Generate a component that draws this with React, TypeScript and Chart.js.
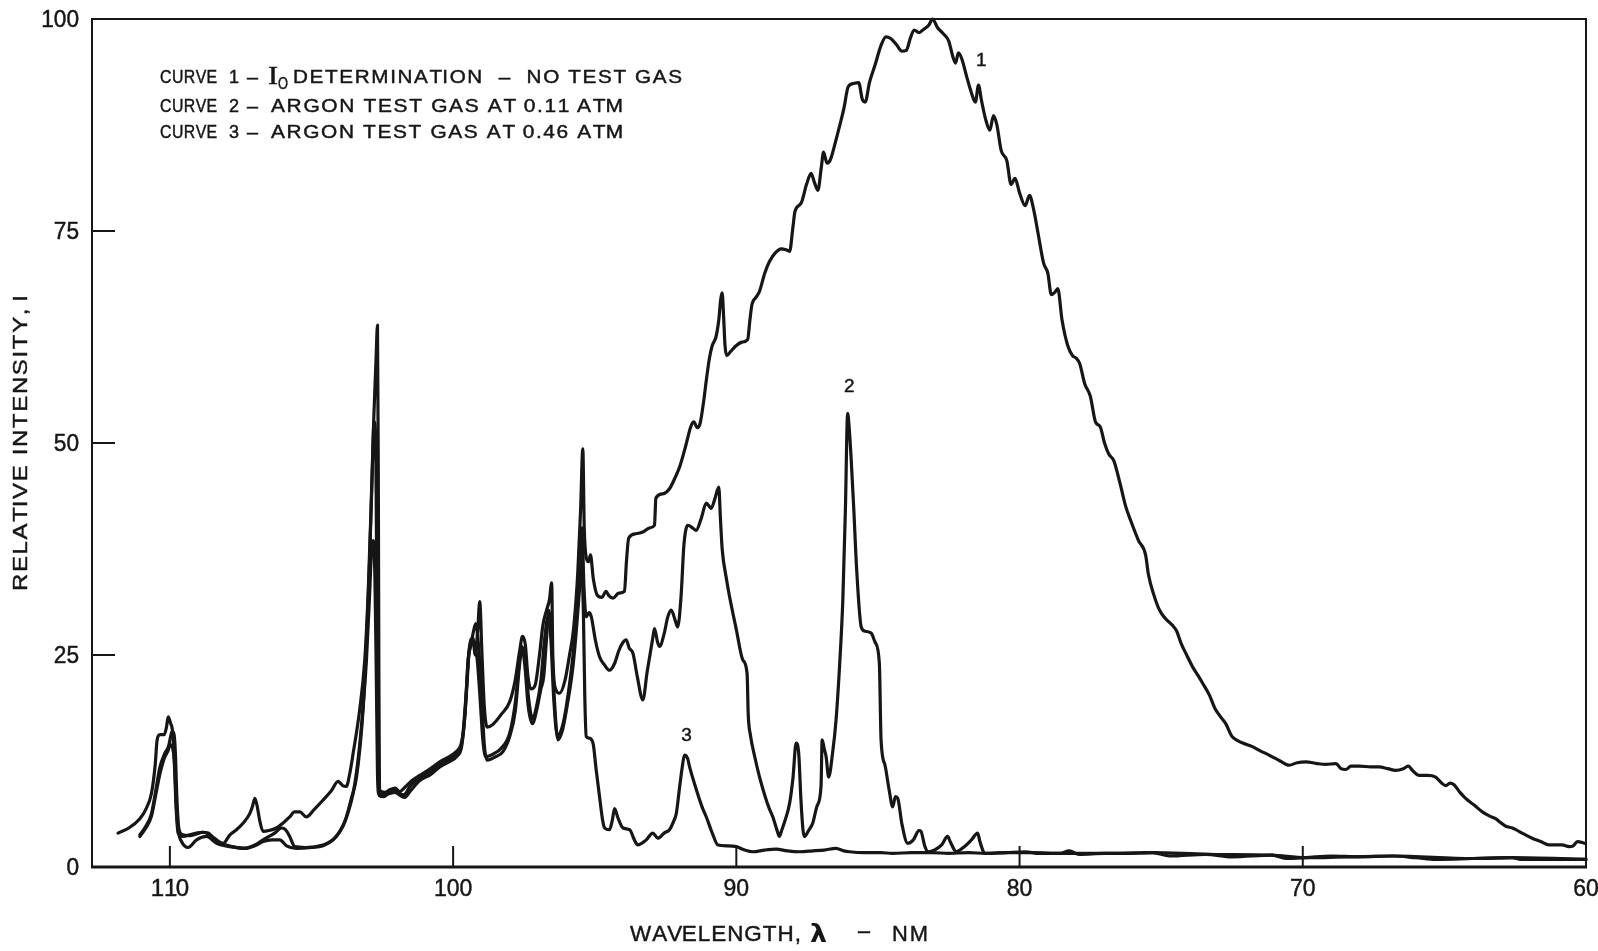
import React, { useEffect, useRef } from "react";
import { Chart, registerables } from "chart.js";

Chart.register(...registerables);

// ---------- data (wavelength nm, relative intensity) ----------
const curve1NoGas: [number, number][] = [
  [111.83, 4.0], [111.45, 4.6], [111.06, 5.7], [110.85, 6.8], [110.65, 8.7], [110.52, 12.0], [110.45, 15.0],
  [110.35, 15.6], [110.2, 15.6], [110.12, 16.5], [110.06, 17.7], [109.98, 17.0], [109.9, 15.8], [109.84, 12.0],
  [109.78, 7.0], [109.71, 4.0], [109.53, 3.6], [109.3, 3.8], [109.06, 4.0], [108.85, 4.1], [108.65, 4.0],
  [108.35, 3.0], [108.12, 2.8], [107.88, 3.8], [107.65, 4.4], [107.41, 5.2], [107.18, 6.3], [107.08, 7.2],
  [107.0, 8.1], [106.92, 7.2], [106.83, 5.5], [106.71, 4.2], [106.5, 4.3], [106.24, 4.6], [106.0, 5.2],
  [105.77, 5.9], [105.6, 6.5], [105.41, 6.5], [105.18, 5.9], [104.9, 6.8], [104.59, 7.9], [104.3, 9.0],
  [104.06, 10.1], [103.9, 9.6], [103.77, 9.5], [103.65, 11.0], [103.53, 13.4], [103.3, 18.5], [103.12, 24.4],
  [103.0, 32.3], [102.9, 42.0], [102.8, 53.0], [102.72, 60.0], [102.67, 63.9], [102.64, 45.0], [102.62, 22.0],
  [102.58, 9.0], [102.4, 8.8], [102.24, 9.1], [102.05, 9.3], [101.89, 8.9], [101.7, 9.4], [101.45, 10.2],
  [101.18, 10.8], [100.8, 11.6], [100.47, 12.4], [100.15, 13.0], [99.89, 13.6], [99.72, 14.5], [99.62, 16.5],
  [99.52, 21.0], [99.42, 26.0], [99.3, 27.0], [99.22, 25.0], [99.13, 28.0], [99.06, 31.3], [98.98, 25.0],
  [98.9, 19.0], [98.8, 16.5], [98.6, 16.8], [98.3, 18.0], [98.0, 19.5], [97.81, 22.0], [97.65, 25.5],
  [97.55, 27.2], [97.45, 26.2], [97.36, 22.5], [97.25, 21.0], [97.1, 21.5], [96.95, 25.0], [96.83, 28.5],
  [96.7, 30.3], [96.6, 31.5], [96.52, 33.5], [96.48, 25.0], [96.38, 21.0], [96.24, 20.5], [96.05, 22.0],
  [95.89, 25.0], [95.75, 28.0], [95.6, 34.6], [95.5, 42.0], [95.42, 49.3], [95.37, 40.0], [95.3, 36.5],
  [95.22, 36.0], [95.15, 36.8], [95.05, 34.0], [94.9, 32.0], [94.75, 31.8], [94.6, 32.5], [94.5, 32.0],
  [94.36, 31.7], [94.15, 32.3], [93.95, 32.5], [93.88, 36.0], [93.8, 38.8], [93.55, 39.3], [93.3, 39.5],
  [93.05, 40.0], [92.89, 40.3], [92.84, 43.5], [92.6, 44.0], [92.36, 44.6], [92.15, 46.0], [92.0, 47.2],
  [91.8, 49.5], [91.6, 52.0], [91.5, 52.5], [91.38, 51.8], [91.28, 52.3], [91.15, 55.0], [91.06, 57.4],
  [90.95, 60.0], [90.85, 61.5], [90.72, 62.5], [90.62, 64.5], [90.55, 67.0], [90.5, 67.7], [90.45, 65.0],
  [90.4, 61.5], [90.34, 60.3], [90.2, 60.8], [90.0, 61.5], [89.8, 61.9], [89.6, 62.2], [89.52, 64.5],
  [89.45, 66.3], [89.3, 67.2], [89.18, 67.9], [89.0, 70.0], [88.83, 71.4], [88.6, 72.5], [88.42, 72.9],
  [88.25, 72.8], [88.12, 72.6], [88.0, 75.5], [87.93, 77.3], [87.71, 78.3], [87.52, 80.5], [87.36, 81.8],
  [87.25, 80.8], [87.12, 79.8], [87.0, 82.5], [86.92, 84.3], [86.8, 83.0], [86.68, 83.4], [86.5, 85.5],
  [86.36, 87.3], [86.2, 89.5], [86.05, 92.0], [85.85, 92.4], [85.68, 92.5], [85.55, 90.5], [85.45, 90.2],
  [85.3, 92.5], [85.1, 94.6], [84.9, 96.8], [84.72, 97.9], [84.55, 97.7], [84.35, 97.0], [84.15, 96.2],
  [84.0, 96.3], [83.85, 97.8], [83.72, 98.7], [83.55, 98.4], [83.38, 98.8], [83.2, 99.3], [83.07, 100.0],
  [82.9, 99.0], [82.7, 98.3], [82.5, 97.4], [82.35, 95.5], [82.26, 94.8], [82.16, 96.0], [82.05, 95.4],
  [81.85, 93.0], [81.7, 91.3], [81.56, 90.2], [81.45, 92.2], [81.35, 90.5], [81.2, 88.2], [81.05, 86.9],
  [80.92, 88.6], [80.8, 87.5], [80.65, 84.5], [80.45, 83.3], [80.3, 80.5], [80.16, 81.2], [80.0, 79.5],
  [79.8, 78.0], [79.65, 79.2], [79.5, 77.5], [79.35, 74.8], [79.15, 71.2], [79.0, 70.0], [78.88, 67.5],
  [78.75, 67.8], [78.65, 68.2], [78.5, 64.5], [78.3, 61.5], [78.13, 60.3], [78.0, 60.0], [77.88, 59.4],
  [77.7, 57.0], [77.5, 55.5], [77.32, 52.5], [77.15, 51.9], [77.0, 50.0], [76.85, 48.7], [76.67, 47.9],
  [76.45, 45.2], [76.25, 42.5], [76.07, 40.8], [75.8, 38.5], [75.55, 36.8], [75.45, 34.5], [75.25, 32.0],
  [75.06, 30.3], [74.85, 29.3], [74.6, 28.5], [74.45, 27.8], [74.3, 26.4], [74.1, 25.0], [73.89, 23.6],
  [73.7, 22.6], [73.54, 21.7], [73.3, 20.3], [73.1, 18.7], [72.9, 17.7], [72.72, 16.9], [72.5, 15.4],
  [72.3, 14.9], [72.1, 14.6], [71.78, 14.2], [71.5, 13.7], [71.19, 13.2], [70.8, 12.5], [70.48, 12.0],
  [70.2, 12.3], [69.89, 12.4], [69.5, 12.2], [69.19, 12.1], [68.83, 12.2], [68.65, 11.6], [68.48, 11.5],
  [68.3, 11.9], [68.0, 11.9], [67.6, 11.8], [67.31, 11.8], [67.0, 11.6], [66.72, 11.4], [66.45, 11.6],
  [66.28, 11.9], [66.1, 11.3], [65.89, 10.8], [65.6, 10.8], [65.31, 10.6], [65.1, 9.9], [64.95, 9.6],
  [64.8, 9.9], [64.66, 9.7], [64.45, 8.8], [64.25, 8.1], [63.95, 7.3], [63.66, 6.5], [63.4, 6.0],
  [63.19, 5.7], [63.0, 5.2], [62.83, 4.8], [62.6, 4.6], [62.48, 4.4], [62.2, 3.9], [61.9, 3.4],
  [61.6, 3.0], [61.31, 2.6], [61.0, 2.6], [60.84, 2.6], [60.6, 2.4], [60.45, 2.5], [60.3, 3.0], [60.05, 2.8],
];

const curve2Argon011: [number, number][] = [
  [111.06, 3.8], [110.85, 4.8], [110.65, 6.3], [110.5, 9.0], [110.35, 11.8], [110.18, 13.4], [110.05, 14.2],
  [109.96, 15.6], [109.92, 16.0], [109.85, 15.6], [109.8, 13.0], [109.76, 8.7], [109.68, 4.5], [109.55, 3.8],
  [109.3, 3.7], [109.06, 3.9], [108.83, 4.1], [108.59, 3.8], [108.18, 2.8], [107.8, 2.4], [107.41, 2.2],
  [107.0, 2.6], [106.71, 3.2], [106.3, 4.0], [106.05, 4.6], [105.92, 4.4], [105.77, 3.6], [105.59, 2.4],
  [105.2, 2.3], [104.59, 2.6], [104.3, 3.1], [104.12, 3.6], [103.9, 4.8], [103.77, 5.9], [103.6, 8.0],
  [103.41, 10.6], [103.18, 18.5], [103.06, 26.4], [102.96, 35.0], [102.86, 46.0], [102.79, 52.5],
  [102.73, 50.0], [102.69, 30.0], [102.65, 12.0], [102.6, 8.4], [102.45, 8.3], [102.3, 8.6], [102.05, 8.8],
  [101.85, 8.4], [101.71, 8.2], [101.5, 9.0], [101.18, 10.2], [100.8, 10.9], [100.47, 11.8], [100.15, 12.4],
  [99.85, 13.1], [99.7, 14.2], [99.57, 18.5], [99.47, 24.5], [99.38, 26.0], [99.28, 27.8], [99.2, 28.7],
  [99.1, 26.0], [99.0, 20.5], [98.9, 14.5], [98.8, 12.6], [98.5, 13.0], [98.24, 13.6], [98.0, 15.4],
  [97.8, 18.5], [97.65, 24.0], [97.56, 25.8], [97.46, 23.5], [97.35, 19.0], [97.2, 16.9], [97.05, 18.5],
  [96.9, 21.0], [96.8, 22.5], [96.7, 27.0], [96.62, 30.3], [96.52, 26.5], [96.42, 19.5], [96.3, 15.0],
  [96.15, 16.0], [96.0, 18.5], [95.77, 23.6], [95.6, 30.0], [95.5, 35.0], [95.45, 40.0], [95.38, 33.0],
  [95.3, 29.5], [95.2, 30.0], [95.12, 29.5], [94.98, 26.8], [94.83, 24.8], [94.65, 23.8], [94.48, 23.2],
  [94.3, 24.0], [94.15, 25.5], [94.0, 26.5], [93.89, 26.8], [93.78, 25.8], [93.65, 25.2], [93.5, 22.5],
  [93.3, 19.7], [93.15, 23.0], [92.95, 27.0], [92.89, 28.1], [92.78, 26.5], [92.71, 26.0], [92.55, 27.5],
  [92.42, 29.5], [92.3, 30.3], [92.15, 29.0], [92.07, 28.3], [91.95, 32.0], [91.85, 38.0], [91.71, 40.3],
  [91.55, 40.0], [91.42, 39.7], [91.25, 41.0], [91.06, 42.9], [90.95, 42.5], [90.89, 42.3], [90.75, 43.5],
  [90.62, 44.8], [90.56, 41.0], [90.5, 37.5], [90.35, 34.0], [90.24, 31.9], [90.0, 28.0], [89.77, 24.4],
  [89.62, 22.8], [89.58, 18.0], [89.5, 15.5], [89.35, 13.0], [89.18, 10.6], [89.0, 8.5], [88.85, 7.0],
  [88.71, 5.9], [88.55, 4.2], [88.48, 3.6], [88.4, 4.3], [88.25, 5.8], [88.12, 7.5], [88.0, 10.5],
  [87.89, 14.6], [87.8, 13.5], [87.72, 8.0], [87.65, 4.5], [87.6, 3.6], [87.45, 4.3], [87.3, 5.2],
  [87.15, 7.2], [87.01, 9.5], [86.97, 15.0], [86.9, 14.0], [86.83, 13.0], [86.74, 10.6], [86.6, 13.5],
  [86.48, 17.3], [86.35, 24.0], [86.24, 31.5], [86.15, 42.0], [86.07, 53.5], [86.02, 52.0], [85.95, 48.4],
  [85.85, 42.0], [85.75, 35.0], [85.59, 28.3], [85.45, 27.8], [85.24, 27.6], [85.1, 26.5], [84.95, 24.0],
  [84.89, 15.0], [84.75, 12.0], [84.6, 9.0], [84.48, 7.1], [84.38, 8.3], [84.3, 8.1], [84.15, 5.0],
  [83.95, 2.8], [83.75, 3.2], [83.55, 4.3], [83.48, 4.2], [83.35, 2.5], [83.24, 1.8], [83.0, 2.0],
  [82.75, 2.6], [82.54, 3.6], [82.45, 3.0], [82.3, 2.0], [82.24, 1.8], [81.95, 2.4], [81.7, 3.2],
  [81.48, 4.0], [81.4, 3.0], [81.3, 2.0], [81.24, 1.6], [80.5, 1.7], [79.5, 1.7], [78.6, 1.6],
  [77.0, 1.6], [75.3, 1.7], [73.4, 1.5], [71.1, 1.4], [69.9, 1.1], [66.8, 1.3], [64.0, 1.0], [62.6, 1.1],
  [60.0, 0.9],
];

const curve3Argon046: [number, number][] = [
  [111.06, 3.6], [110.85, 4.6], [110.65, 6.0], [110.5, 8.5], [110.35, 11.0], [110.2, 12.8], [110.08, 13.6],
  [109.98, 14.4], [109.9, 14.0], [109.83, 12.0], [109.77, 7.0], [109.7, 4.2], [109.59, 3.0], [109.36, 2.3],
  [109.06, 3.2], [108.71, 3.6], [108.35, 2.8], [107.88, 2.4], [107.29, 2.2], [107.0, 2.5], [106.71, 3.0],
  [106.4, 3.2], [106.12, 3.2], [105.88, 2.5], [105.53, 2.2], [105.0, 2.3], [104.59, 2.5], [104.24, 3.2],
  [103.89, 4.8], [103.7, 6.5], [103.53, 8.7], [103.38, 12.0], [103.24, 16.5], [103.06, 24.4], [102.95, 32.0],
  [102.88, 37.4], [102.82, 38.5], [102.76, 34.0], [102.71, 22.0], [102.67, 11.0], [102.62, 8.6],
  [102.45, 8.6], [102.3, 8.9], [102.1, 9.1], [101.9, 8.7], [101.75, 8.5], [101.5, 9.6], [101.2, 10.5],
  [100.8, 11.3], [100.47, 12.0], [100.15, 12.7], [99.85, 13.4], [99.68, 14.8], [99.55, 20.0], [99.45, 25.0],
  [99.35, 26.8], [99.25, 26.0], [99.15, 24.5], [99.05, 20.0], [98.95, 15.0], [98.85, 13.0], [98.6, 13.3],
  [98.3, 14.0], [98.0, 15.8], [97.8, 19.5], [97.65, 24.5], [97.57, 26.0], [97.45, 24.0], [97.32, 19.5],
  [97.2, 17.5], [97.05, 19.0], [96.9, 22.0], [96.78, 26.5], [96.65, 29.5], [96.55, 27.0], [96.45, 20.0],
  [96.32, 15.5], [96.15, 16.5], [96.0, 19.0], [95.8, 24.0], [95.65, 29.0], [95.55, 33.0], [95.47, 35.5],
  [95.4, 30.0], [95.35, 20.0], [95.3, 15.4], [95.2, 15.2], [95.06, 14.6], [94.95, 11.5], [94.83, 8.3],
  [94.72, 5.5], [94.65, 4.6], [94.48, 4.4], [94.38, 5.5], [94.3, 6.9], [94.18, 5.8], [94.0, 4.6],
  [93.77, 4.4], [93.6, 3.2], [93.48, 2.6], [93.18, 3.2], [92.95, 4.0], [92.77, 3.4], [92.55, 4.0],
  [92.36, 4.4], [92.2, 5.5], [92.12, 6.3], [92.0, 9.5], [91.9, 12.0], [91.83, 13.2], [91.72, 12.8],
  [91.65, 11.8], [91.4, 9.0], [91.2, 7.0], [91.06, 5.9], [90.85, 4.0], [90.65, 2.6], [90.3, 2.5],
  [90.0, 2.4], [89.7, 2.0], [89.42, 1.8], [89.0, 2.0], [88.59, 2.1], [88.2, 1.9], [87.77, 1.8],
  [87.3, 1.9], [86.9, 2.0], [86.48, 2.2], [86.2, 1.9], [86.0, 1.8], [85.5, 1.7], [84.9, 1.7], [84.48, 1.6],
  [83.8, 1.7], [83.1, 1.7], [82.5, 1.6], [81.8, 1.7], [81.2, 1.6], [80.48, 1.7], [79.8, 1.8], [79.3, 1.6],
  [78.6, 1.6], [78.24, 1.9], [77.9, 1.5], [77.0, 1.6], [76.2, 1.6], [75.3, 1.7], [74.7, 1.3], [73.42, 1.5],
  [72.5, 1.2], [71.07, 1.4], [70.6, 1.0], [69.9, 1.1], [69.0, 1.3], [68.0, 1.2], [66.84, 1.3], [66.0, 1.1],
  [65.3, 0.9], [64.0, 1.0], [62.6, 1.1], [62.3, 0.9], [61.5, 0.9], [60.95, 0.9], [60.0, 0.9],
];

const xTickValues = [110, 100, 90, 80, 70, 60];
const yTickValues = [0, 25, 50, 75, 100];
const xRange = { left: 112.75, right: 60 };
const yRange = { min: 0, max: 100 };

const legendCurveWords = ["CURVE", "CURVE", "CURVE"];
const legendNumbers = ["1", "2", "3"];
const legendTexts = [
  "DETERMINATION  \u2013  NO TEST GAS",
  "ARGON TEST GAS AT 0.11 ATM",
  "ARGON TEST GAS AT 0.46 ATM",
];
const curveLabels = ["1", "2", "3"];
const curveLabelAnchors: [number, number][] = [
  [81.35, 95.3],
  [86.01, 56.8],
  [91.76, 15.7],
];
const yAxisTitle = "RELATIVE INTENSITY, I";
const xAxisTitleParts = ["WAVELENGTH,", "\u03bb", "\u2013", "NM"];

// ---------- drawing helpers ----------
const INK = "#161616";
const SANS = "'Liberation Sans', Arial, Helvetica, sans-serif";
const SERIF = "'Liberation Serif', 'Times New Roman', serif";

type TextOpts = {
  align?: "left" | "center" | "right";
  width?: number;
  ls?: number;
  rotate?: number;
  baseline?: CanvasTextBaseline;
  stroke?: number;
};

function drawText(ctx: CanvasRenderingContext2D, s: string, x: number, y: number, font: string, o: TextOpts = {}) {
  ctx.save();
  ctx.font = font;
  ctx.fillStyle = INK;
  ctx.strokeStyle = INK;
  ctx.textAlign = "left";
  ctx.textBaseline = o.baseline || "alphabetic";
  const ls = o.ls || 0;
  const chars = Array.from(s);
  const offsets: number[] = [];
  for (let i = 0; i < chars.length; i++) {
    offsets.push(ctx.measureText(chars.slice(0, i).join("")).width + ls * i);
  }
  const natural = ctx.measureText(s).width + ls * (chars.length - 1);
  const sx = o.width ? o.width / natural : 1;
  const w = natural * sx;
  let ox = 0;
  if (o.align === "center") ox = -w / 2;
  else if (o.align === "right") ox = -w;
  ctx.translate(x, y);
  if (o.rotate) ctx.rotate(o.rotate);
  ctx.translate(ox, 0);
  ctx.scale(sx, 1);
  const sw = o.stroke === undefined ? 0.45 : o.stroke;
  ctx.lineWidth = sw;
  chars.forEach((c, i) => {
    ctx.fillText(c, offsets[i], 0);
    if (sw > 0) ctx.strokeText(c, offsets[i], 0);
  });
  ctx.restore();
}

const framePlugin = {
  id: "frameAndText",
  beforeDatasetsDraw(chart: any) {
    const { ctx, chartArea: a, scales } = chart;
    ctx.save();
    ctx.strokeStyle = INK;
    ctx.lineWidth = 2;
    ctx.beginPath();
    ctx.moveTo(a.left, a.bottom);
    ctx.lineTo(a.left, a.top);
    ctx.lineTo(a.right, a.top);
    ctx.lineTo(a.right, a.bottom);
    ctx.stroke();
    ctx.lineWidth = 3;
    ctx.beginPath();
    ctx.moveTo(a.left - 1, a.bottom);
    ctx.lineTo(a.right + 1, a.bottom);
    ctx.stroke();
    ctx.lineWidth = 2;
    xTickValues.forEach((v) => {
      const px = scales.x.getPixelForValue(v);
      ctx.beginPath();
      ctx.moveTo(px, a.bottom);
      ctx.lineTo(px, a.bottom - 21);
      ctx.stroke();
    });
    yTickValues.forEach((v) => {
      const py = scales.y.getPixelForValue(v);
      ctx.beginPath();
      ctx.moveTo(a.left, py);
      ctx.lineTo(a.left + 23, py);
      ctx.stroke();
    });
    ctx.restore();
  },
  afterDraw(chart: any) {
    const { ctx, chartArea: a, scales } = chart;
    // tick labels
    yTickValues.forEach((v) => {
      const py = scales.y.getPixelForValue(v);
      const s = String(v);
      drawText(ctx, s, a.left - 13, py + 7.5, `23px ${SANS}`, { align: "right", width: s.length * 12.6 });
    });
    xTickValues.forEach((v) => {
      const px = scales.x.getPixelForValue(v);
      const s = String(v);
      drawText(ctx, s, px, a.bottom + 29, `24px ${SANS}`, { align: "center", width: s.length * 12.8 });
    });
    // axis titles
    drawText(ctx, yAxisTitle, 27, (a.top + a.bottom) / 2, `21px ${SANS}`, {
      align: "center",
      rotate: -Math.PI / 2,
      ls: 1.5,
      width: 296,
    });
    drawText(ctx, xAxisTitleParts[0], 630, 941, `22px ${SANS}`, { width: 171, ls: 1 });
    drawText(ctx, xAxisTitleParts[1], 810, 942, `bold 25px 'DejaVu Sans', ${SANS}`, { width: 17, stroke: 0 });
    drawText(ctx, xAxisTitleParts[2], 858, 938, `22px ${SANS}`, { width: 12 });
    drawText(ctx, xAxisTitleParts[3], 892, 941, `22px ${SANS}`, { width: 36, ls: 2 });
    // legend block
    const baselines = [83, 111.5, 138.3];
    legendCurveWords.forEach((p, i) => {
      drawText(ctx, p, 160, baselines[i], `18px ${SANS}`, { width: 57, ls: 0.5 });
      drawText(ctx, legendNumbers[i], 234, baselines[i], `18px ${SANS}`, { align: "center" });
      drawText(ctx, "\u2013", 247, baselines[i], `18px ${SANS}`, { width: 11 });
    });
    drawText(ctx, "I", 268, 83.5, `26px ${SERIF}`, { width: 10 });
    drawText(ctx, "O", 278, 88.5, `16px ${SANS}`, { width: 10 });
    drawText(ctx, legendTexts[0], 293, baselines[0], `19px ${SANS}`, { width: 389, ls: 1.5 });
    drawText(ctx, legendTexts[1], 271, baselines[1], `19px ${SANS}`, { width: 352, ls: 1.5 });
    drawText(ctx, legendTexts[2], 271, baselines[2], `19px ${SANS}`, { width: 352, ls: 1.5 });
    // curve labels
    curveLabels.forEach((t, i) => {
      const px = scales.x.getPixelForValue(curveLabelAnchors[i][0]);
      const py = scales.y.getPixelForValue(curveLabelAnchors[i][1]);
      drawText(ctx, t, px, py + 7, `19px ${SANS}`, { align: "center" });
    });
  },
};

export default function App() {
  const ref = useRef<HTMLCanvasElement | null>(null);
  useEffect(() => {
    if (!ref.current) return;
    const toXY = (c: [number, number][]) => c.map(([x, y]) => ({ x, y }));
    const ds = (label: string, c: [number, number][]) => ({
      label,
      data: toXY(c),
      borderColor: INK,
      borderWidth: 3.2,
      pointRadius: 0,
      fill: false,
      tension: 0,
      cubicInterpolationMode: "monotone" as const,
      borderCapStyle: "round" as const,
      borderJoinStyle: "round" as const,
      clip: false as const,
    });
    const chart = new Chart(ref.current, {
      type: "line",
      data: {
        datasets: [
          ds("Curve 1 - I0 determination - no test gas", curve1NoGas),
          ds("Curve 2 - argon test gas at 0.11 atm", curve2Argon011),
          ds("Curve 3 - argon test gas at 0.46 atm", curve3Argon046),
        ],
      },
      options: {
        animation: false,
        responsive: false,
        devicePixelRatio: 1,
        layout: { padding: { left: 0, right: 12, top: 19, bottom: 0 } },
        plugins: { legend: { display: false }, tooltip: { enabled: false } },
        scales: {
          x: {
            type: "linear",
            min: xRange.right,
            max: xRange.left,
            reverse: true,
            grid: { display: false },
            border: { display: false },
            ticks: { display: false },
            afterFit: (s: any) => {
              s.height = 84;
            },
          },
          y: {
            type: "linear",
            min: yRange.min,
            max: yRange.max,
            grid: { display: false },
            border: { display: false },
            ticks: { display: false },
            afterFit: (s: any) => {
              s.width = 92;
            },
          },
        },
      },
      plugins: [framePlugin],
    });
    return () => chart.destroy();
  }, []);
  return (
    <div style={{ position: "absolute", left: 0, top: 0, width: 1598, height: 951, background: "#fff" }}>
      <canvas ref={ref} width={1598} height={951} style={{ display: "block", width: 1598, height: 951 }} />
    </div>
  );
}
